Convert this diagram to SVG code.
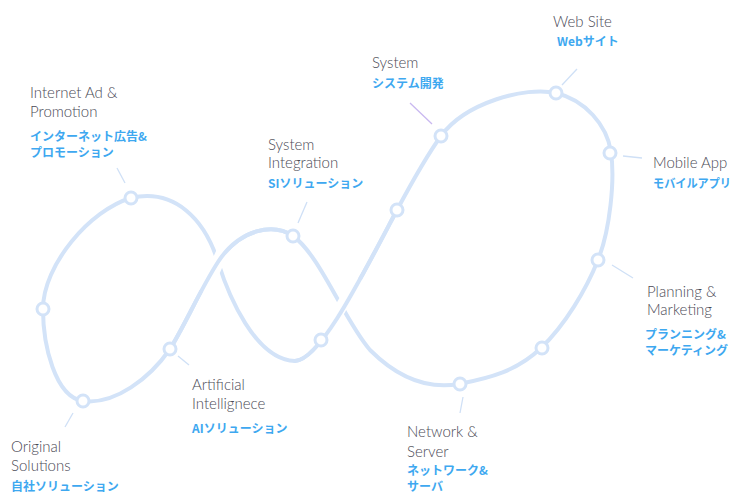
<svg xmlns="http://www.w3.org/2000/svg" width="733" height="493" viewBox="0 0 733 493">
<style>
.curve{fill:none;stroke:#d3e3f8;stroke-width:4;stroke-linecap:round}
.gap{fill:none;stroke:#fff;stroke-width:12}
.node{fill:#fff;stroke:#d3e3f8;stroke-width:3}
.lead{stroke:#cfe0f6;stroke-width:1.3}
.leadp{stroke:#c9b8f0;stroke-width:1.3}
.en{font-family:Lato,"Noto Sans",sans-serif;font-weight:300;font-size:15px;fill:#4a4a55}
.jp{font-family:"Noto Sans CJK JP",sans-serif;font-weight:700;font-size:12px;fill:#3ea8f0}
</style>
<rect width="733" height="493" fill="#fff"/>
<g id="connectors">
<path class="curve" d="M131,198 C175,188 205,220 218,262 C228,294 255,360 295,361 C320,360 360,280 397,210 C412,182 425,158 441,136 C465,103 525,86 556,93 C585,100 607,125 611,152 C615,180 610,230 598,260 C586,290 565,325 541,348 C517,371 490,378 459,384 C425,390 395,375 370,350 C345,322 320,255 293,236 C274,223 240,228 218,262 C200,290 185,325 170,349 C150,378 115,405 83,401 C55,397 43,345 43,309 C43,265 90,210 131,198 Z"/>
<path class="gap" d="M240,230 C229,238 222,250 218,262 C214,272 209,282 204,292"/>
<path class="curve" d="M293,236 C274,223 240,228 218,262 C200,290 185,325 170,349"/>
<path class="gap" d="M325,334 C335,318 345,300 358,278"/>
<path class="curve" d="M295,361 C320,360 360,280 397,210"/>
<line class="lead" x1="117" y1="168" x2="125" y2="183"/>
<line class="lead" x1="73" y1="413" x2="65" y2="427"/>
<line class="lead" x1="178" y1="356" x2="189" y2="365"/>
<line class="lead" x1="307" y1="202" x2="298" y2="223"/>
<line class="leadp" x1="410" y1="103" x2="432" y2="124"/>
<line class="lead" x1="577" y1="69" x2="562" y2="85"/>
<line class="lead" x1="623" y1="156" x2="642" y2="158"/>
<line class="lead" x1="612" y1="265" x2="633" y2="278"/>
<line class="lead" x1="463" y1="397" x2="460" y2="413"/>
</g>
<g id="node-internet-ad">
<circle class="node" cx="131" cy="198" r="6"/>
<text class="en" x="30" y="98">Internet Ad &amp;</text>
<text class="en" x="30" y="117">Promotion</text>
<text class="jp" x="30" y="141">インターネット広告&amp;</text>
<text class="jp" x="30" y="157">プロモーション</text>
</g>
<g id="node-left"><circle class="node" cx="43" cy="309" r="6"/></g>
<g id="node-original">
<circle class="node" cx="83" cy="401" r="6"/>
<text class="en" x="11" y="452">Original</text>
<text class="en" x="11" y="471">Solutions</text>
<text class="jp" x="11" y="491">自社ソリューション</text>
</g>
<g id="node-ai">
<circle class="node" cx="170" cy="349" r="6"/>
<text class="en" x="192" y="390">Artificial</text>
<text class="en" x="192" y="409">Intellignece</text>
<text class="jp" x="192" y="433">AIソリューション</text>
</g>
<g id="node-si">
<circle class="node" cx="293" cy="236" r="6"/>
<text class="en" x="268" y="150">System</text>
<text class="en" x="268" y="168">Integration</text>
<text class="jp" x="268" y="188">SIソリューション</text>
</g>
<g id="node-mid"><circle class="node" cx="321" cy="340" r="6"/></g>
<g id="node-upper"><circle class="node" cx="397" cy="210" r="6"/></g>
<g id="node-system">
<circle class="node" cx="441" cy="136" r="6"/>
<text class="en" x="372" y="68">System</text>
<text class="jp" x="372" y="88">システム開発</text>
</g>
<g id="node-web">
<circle class="node" cx="556" cy="93" r="6"/>
<text class="en" x="553" y="27">Web Site</text>
<text class="jp" x="557" y="46">Webサイト</text>
</g>
<g id="node-mobile">
<circle class="node" cx="610" cy="153" r="6"/>
<text class="en" x="653" y="168">Mobile App</text>
<text class="jp" x="653" y="188" textLength="78" lengthAdjust="spacingAndGlyphs">モバイルアプリ</text>
</g>
<g id="node-planning">
<circle class="node" cx="598" cy="260" r="6"/>
<text class="en" x="647" y="297">Planning &amp;</text>
<text class="en" x="647" y="315">Marketing</text>
<text class="jp" x="645" y="339">プランニング&amp;</text>
<text class="jp" x="645" y="355">マーケティング</text>
</g>
<g id="node-lower-right"><circle class="node" cx="542" cy="348" r="6"/></g>
<g id="node-network">
<circle class="node" cx="460" cy="384" r="6"/>
<text class="en" x="407" y="437">Network &amp;</text>
<text class="en" x="407" y="457">Server</text>
<text class="jp" x="407" y="475">ネットワーク&amp;</text>
<text class="jp" x="407" y="491">サーバ</text>
</g>
</svg>
